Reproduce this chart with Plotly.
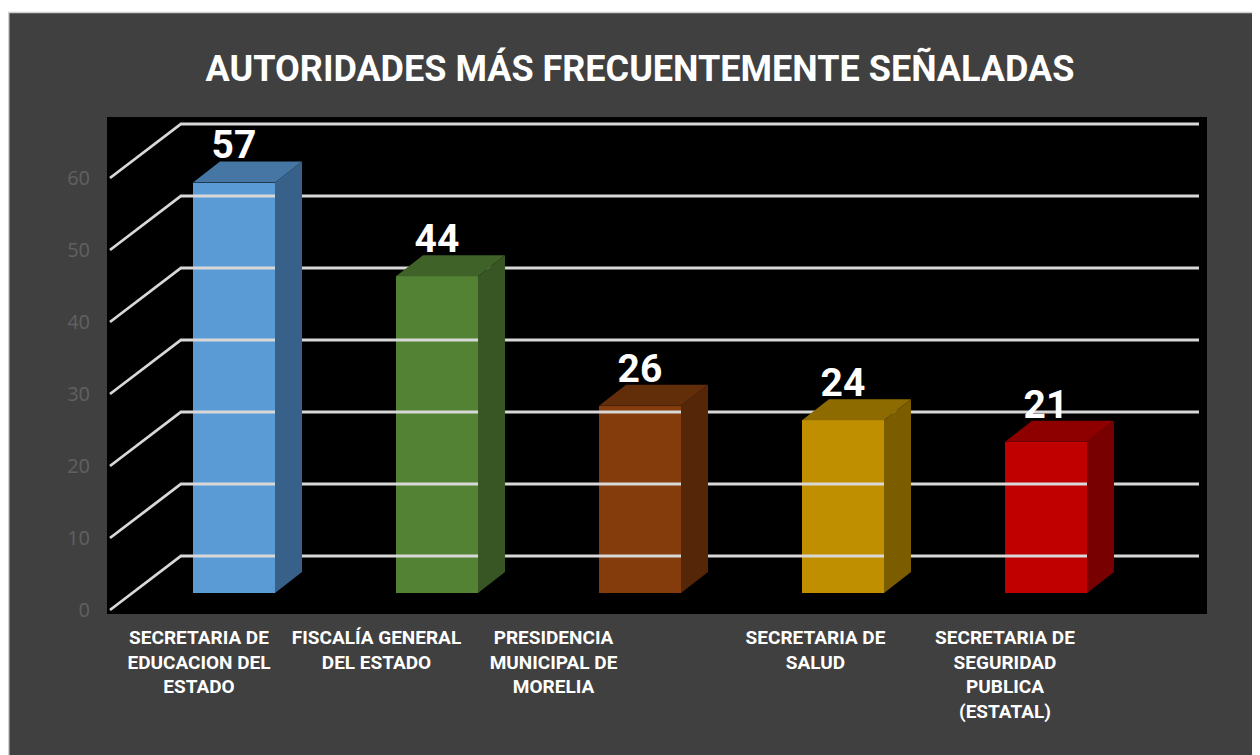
import plotly.graph_objects as go

# ---------------- data ----------------
categories = [
    "SECRETARIA DE<br>EDUCACION DEL<br>ESTADO",
    "FISCALÍA GENERAL<br>DEL ESTADO",
    "PRESIDENCIA<br>MUNICIPAL DE<br>MORELIA",
    "SECRETARIA DE<br>SALUD",
    "SECRETARIA DE<br>SEGURIDAD<br>PUBLICA<br>(ESTATAL)",
]
values = [57, 44, 26, 24, 21]
y_ticks = [0, 10, 20, 30, 40, 50, 60]
title_text = "AUTORIDADES MÁS FRECUENTEMENTE SEÑALADAS"

# ---------------- styles ----------------
front_colors = ["#5B9BD5", "#548235", "#843C0C", "#BF8F00", "#C00000"]
top_colors = ["#4677A4", "#3F6228", "#622D09", "#8E6B00", "#8E0000"]
side_colors = ["#38618A", "#375623", "#552708", "#7B5D00", "#790000"]
COND = "Roboto, Inter, sans-serif"

OFF = 8                                     # browser body margin
W, H = 1260 - OFF, 755 - OFF
L, R, T, B = 107 - OFF, 1207 - OFF, 117 - OFF, 614 - OFF   # plot area (figure px)
X0_PX, X_STEP = 234 - OFF, 203              # first bar centre, bar spacing
Y0_PX, Y_STEP = 610 - OFF, 7.2              # value-0 line (front), px per unit

x_range = [(L - X0_PX) / X_STEP, (R - X0_PX) / X_STEP]
y_range = [-(B - Y0_PX) / Y_STEP, (Y0_PX - T) / Y_STEP]

bar_w = 82 / X_STEP
bar_base = 17 / Y_STEP
bar_dx = 27 / X_STEP
bar_dy = 21 / Y_STEP
wall_x_front = (110 - 234) / X_STEP
wall_dx = 71 / X_STEP
wall_dy = 54 / Y_STEP
wall_x_right = (1199 - 234) / X_STEP
label_pos = [(p - 234) / X_STEP for p in (199, 376.5, 553.5, 815.5, 1005)]

idx = list(range(len(values)))
fig = go.Figure()

# gridlines: slanted side-wall lines + back-wall lines
gx, gy = [], []
for v in y_ticks:
    gx += [wall_x_front, wall_x_front + wall_dx, wall_x_right, None]
    gy += [v, v + wall_dy, v + wall_dy, None]
fig.add_trace(go.Scatter(x=gx, y=gy, mode="lines",
                         line=dict(color="#D8D8D8", width=2.8),
                         hoverinfo="skip", showlegend=False))

# front faces
fig.add_trace(go.Bar(x=idx, y=values, base=[bar_base] * len(values), width=bar_w,
                     marker=dict(color=front_colors, line=dict(width=0)),
                     hoverinfo="skip", showlegend=False))

# top and side faces
for i, v in enumerate(values):
    xl, xr = i - bar_w / 2, i + bar_w / 2
    top = v + bar_base
    fig.add_trace(go.Scatter(
        x=[xl, xr, xr + bar_dx, xl + bar_dx, xl],
        y=[top, top, top + bar_dy, top + bar_dy, top],
        fill="toself", fillcolor=top_colors[i], mode="lines",
        line=dict(width=0, color=top_colors[i]), hoverinfo="skip", showlegend=False))
    fig.add_trace(go.Scatter(
        x=[xr, xr + bar_dx, xr + bar_dx, xr, xr],
        y=[bar_base, bar_base + bar_dy, top + bar_dy, top, bar_base],
        fill="toself", fillcolor=side_colors[i], mode="lines",
        line=dict(width=0, color=side_colors[i]), hoverinfo="skip", showlegend=False))

# data labels
fig.add_trace(go.Scatter(
    x=idx, y=[v + bar_base + bar_dy + 13 / Y_STEP for v in values],
    mode="text", text=[str(v) for v in values], textposition="middle center",
    textfont=dict(family=COND, size=39, color="white", weight="bold"),
    hoverinfo="skip", showlegend=False))

# white frame strip along the top, light edge on the left
def px_x(p):
    return (p - L) / (R - L)

def px_y(p):
    return (B - p) / (B - T)

shapes = [
    dict(type="rect", xref="paper", yref="paper", x0=px_x(-5), x1=px_x(W + 5),
         y0=px_y(4.5), y1=px_y(-5), fillcolor="white",
         line=dict(color="#D0D0D0", width=1.5), layer="above"),
    dict(type="line", xref="paper", yref="paper", x0=px_x(0.7), x1=px_x(0.7),
         y0=px_y(H + 5), y1=px_y(4.5),
         line=dict(color="#D0D0D0", width=1.5), layer="above"),
]

fig.update_layout(
    width=W, height=H,
    margin=dict(l=L, r=W - R, t=T, b=H - B, pad=0, autoexpand=False),
    paper_bgcolor="#404040", plot_bgcolor="black",
    bargap=0, showlegend=False,
    shapes=shapes,
    title=dict(text=title_text, xref="container", yref="container",
               x=(640 - OFF) / W, y=1 - (68 - OFF) / H, xanchor="center", yanchor="middle",
               font=dict(family=COND, size=36, color="white", weight="bold")),
    xaxis=dict(range=x_range, showgrid=False, zeroline=False, showline=False,
               tickmode="array", tickvals=label_pos, ticktext=categories,
               ticks="", ticklabelstandoff=10, tickangle=0, automargin=False,
               tickfont=dict(family=COND, size=19, color="white", weight="bold"),
               fixedrange=True),
    yaxis=dict(range=y_range, showgrid=False, zeroline=False, showline=False,
               tickmode="array", tickvals=y_ticks, ticktext=[str(t) for t in y_ticks],
               ticks="", ticklabelstandoff=16, automargin=False,
               tickfont=dict(family="Open Sans, sans-serif", size=20, color="#606060"),
               fixedrange=True),
)

fig.write_html("out.html")
